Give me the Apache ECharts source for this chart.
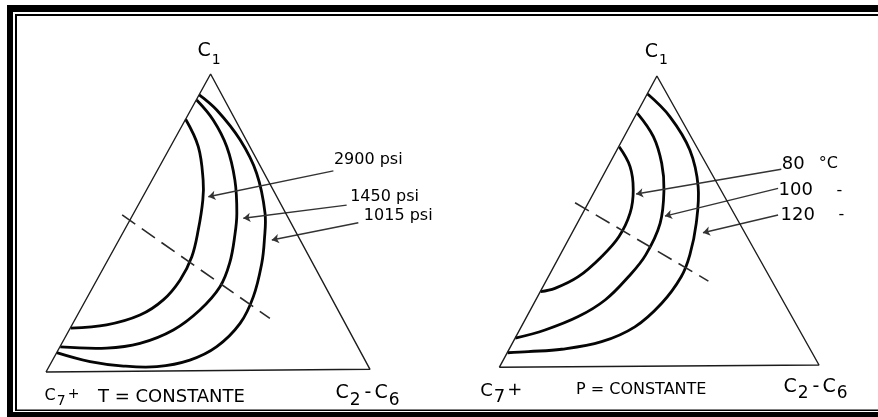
<!DOCTYPE html>
<html>
<head>
<meta charset="utf-8">
<title>Diagramas ternarios</title>
<script src="https://cdn.jsdelivr.net/npm/echarts@6/dist/echarts.min.js"></script>
<style>
  html, body { margin: 0; padding: 0; background: #fff; }
  #chart { width: 878px; height: 417px; }
</style>
</head>
<body>
<div id="chart"></div>
<script>
// each panel uses local units: x 0..100 along the base (C7+ -> C2-C6), y 0..100 up to C1
var vertexNames = ['C7+', 'C2-C6', 'C1'];

// left panel: T = constante
var leftTriangle = [[0, 0], [100, 0.9], [50.8, 100]];
var leftCurveNames = ['2900 psi', '1450 psi', '1015 psi'];
var curve2900 = [[43.1, 84.8], [47.0, 75.6], [48.5, 64.4], [48.4, 57.7], [47.0, 47.7], [45.0, 38.7],
  [41.4, 30.9], [36.2, 24.2], [29.0, 19.1], [18.7, 15.8], [7.6, 14.7]];
var curve1450 = [[46.5, 91.3], [51.6, 84.6], [55.8, 75.6], [58.3, 64.4], [58.9, 53.3], [58.3, 46.0],
  [56.7, 36.6], [53.7, 28.6], [47.5, 20.8], [39.3, 14.1], [29.0, 9.6], [18.7, 8.0], [4.4, 8.4]];
var curve1015 = [[47.3, 93.0], [52.7, 87.9], [59.9, 77.9], [65.0, 66.7], [67.6, 53.3], [67.4, 44.3],
  [66.6, 36.5], [64.0, 25.3], [59.9, 16.3], [52.7, 8.5], [44.4, 4.0], [34.2, 1.8], [23.9, 2.0],
  [13.6, 3.5], [3.3, 6.5]];
var leftArrowTails = [[88.7, 67.5], [92.8, 56.0], [96.4, 50.1]];
var leftArrowHeads = [[50.1, 58.8], [60.9, 51.6], [69.7, 44.3]];
var leftDash = [[23.5, 52.7], [69.1, 18.0]];
var leftTitle = 'T = CONSTANTE';

// right panel: P = constante
var rightTriangle = [[0, 0], [100, 0.8], [49.3, 100]];
var rightCurveNames = ['80', '100', '120'];
var rightUnits = ['°C', '-', '-'];
var curve80 = [[37.5, 75.7], [40.9, 68.9], [41.9, 60.9], [40.9, 52.9], [37.4, 44.8], [32.0, 38.0],
  [24.7, 31.1], [17.4, 27.1], [12.9, 26.0]];
var curve100 = [[43.2, 87.2], [48.2, 79.2], [50.8, 70.0], [51.5, 60.9], [50.3, 49.4], [45.8, 38.6],
  [40.4, 31.1], [33.1, 23.1], [24.7, 17.4], [14.3, 12.8], [5.0, 10.0]];
var curve120 = [[46.4, 93.8], [53.4, 86.0], [59.6, 74.6], [62.2, 62.0], [61.6, 49.4], [59.6, 38.6],
  [56.9, 31.1], [50.8, 22.0], [42.4, 13.9], [32.0, 8.8], [19.5, 6.2], [9.1, 5.4], [2.6, 5.0]];
var rightArrowTails = [[88.2, 68.0], [87.2, 61.4], [87.2, 52.3]];
var rightArrowHeads = [[42.8, 59.5], [51.8, 51.9], [63.7, 46.2]];
var rightDash = [[23.7, 56.5], [65.4, 29.6]];
var rightTitle = 'P = CONSTANTE';

var FONT = 'DejaVu Sans';
var INK = '#000';

var chart = echarts.init(document.getElementById('chart'));

function vertexRich(big, small, drop) {
  return {
    c: { fontFamily: FONT, fontSize: big, color: INK },
    p: { fontFamily: FONT, fontSize: small, color: INK, padding: [0, 0, 2, 1] },
    d: { fontFamily: FONT, fontSize: big, color: INK, padding: [0, 3, 0, 3] },
    s: { fontFamily: FONT, fontSize: small, color: INK, padding: [drop, 1, 0, 1] }
  };
}
function vertexText(name) {
  if (name === 'C1') return '{c|C}{s|1}';
  if (name === 'C7+') return '{c|C}{s|7}{p|+}';
  return '{c|C}{s|2}{d|-}{c|C}{s|6}';
}

// smooth curve through the read points, positioned by the grid's axes
function curveSeries(idx, pts) {
  return {
    type: 'custom', coordinateSystem: 'cartesian2d', xAxisIndex: idx, yAxisIndex: idx,
    silent: true, animation: false, clip: false,
    data: [pts[0]],
    renderItem: function (params, api) {
      return {
        type: 'polyline',
        shape: { points: pts.map(function (p) { return api.coord(p); }), smooth: 0.38 },
        style: { stroke: '#050505', lineWidth: 2.8, fill: null }
      };
    }
  };
}

var hiddenDot = { color: 'rgba(0,0,0,0)', opacity: 1 };

function panelSeries(idx, tri, curves, dash, tails, heads, labelItems, vertexStyle) {
  var base = { xAxisIndex: idx, yAxisIndex: idx, silent: true, animation: false, clip: false };
  var out = [];
  out.push(Object.assign({
    type: 'line', data: tri.concat([tri[0]]), symbol: 'none',
    lineStyle: { color: '#1c1c1c', width: 1.4 }
  }, base));
  curves.forEach(function (c) { out.push(curveSeries(idx, c)); });
  out.push(Object.assign({
    type: 'line', data: dash, symbol: 'none',
    lineStyle: { color: '#2a2a2a', width: 1.6, type: [16, 8] }
  }, base));
  out.push(Object.assign({
    type: 'lines', coordinateSystem: 'cartesian2d',
    symbol: ['none', 'arrow'], symbolSize: 7,
    lineStyle: { color: '#333', width: 1.4, opacity: 1 },
    data: tails.map(function (t, i) { return { coords: [t, heads[i]] }; })
  }, base));
  out.push(Object.assign({
    type: 'scatter', symbolSize: 1, itemStyle: hiddenDot,
    data: labelItems
  }, base));
  out.push(Object.assign({
    type: 'scatter', symbolSize: 1, itemStyle: hiddenDot,
    data: tri.map(function (v, i) {
      var p = vertexStyle[i];
      return {
        value: v, name: vertexNames[i],
        label: {
          show: true, position: p.pos, distance: p.dist, offset: p.off,
          formatter: vertexText(vertexNames[i]), rich: vertexRich(p.big, p.small, p.drop)
        }
      };
    })
  }, base));
  return out;
}

var leftOffsets = [[0, -11], [3, -8], [5, -7]];
var leftLabels = leftArrowTails.map(function (t, i) {
  return {
    value: t, name: leftCurveNames[i],
    label: {
      show: true, position: 'right', distance: 0, offset: leftOffsets[i],
      formatter: leftCurveNames[i], fontFamily: FONT, fontSize: 16, color: INK
    }
  };
});

var rightOffsets = [[0, -5], [0, 2], [2, 0]];
var rightValueWidths = [37, 58, 58];
var rightLabels = rightArrowTails.map(function (t, i) {
  return {
    value: t, name: rightCurveNames[i],
    label: {
      show: true, position: 'right', distance: 0, offset: rightOffsets[i],
      formatter: '{v|' + rightCurveNames[i] + '}{u|' + rightUnits[i] + '}',
      rich: {
        v: { fontFamily: FONT, fontSize: 18, color: INK, width: rightValueWidths[i] },
        u: { fontFamily: FONT, fontSize: 16, color: INK }
      }
    }
  };
});

var leftVertexStyle = [
  { pos: 'bottom', dist: 10, off: [16, 0], big: 16, small: 14, drop: 12 },
  { pos: 'bottom', dist: 8, off: [-2, 0], big: 19, small: 17, drop: 14 },
  { pos: 'top', dist: 0, off: [-1, -6], big: 19, small: 14, drop: 18 }
];
var rightVertexStyle = [
  { pos: 'bottom', dist: 9, off: [2, 0], big: 18, small: 18, drop: 12 },
  { pos: 'bottom', dist: 6, off: [-3, 0], big: 19, small: 17, drop: 14 },
  { pos: 'top', dist: 0, off: [0, -8], big: 19, small: 14, drop: 16 }
];

function hiddenAxis(i) {
  return { type: 'value', gridIndex: i, min: 0, max: 100, show: false };
}

var option = {
  animation: false,
  backgroundColor: '#fff',
  graphic: [
    { type: 'rect', shape: { x: 7, y: 5, width: 900, height: 420 }, style: { fill: '#000' } },
    { type: 'rect', shape: { x: 13, y: 12, width: 900, height: 400 }, style: { fill: '#fff' } },
    { type: 'rect', shape: { x: 15, y: 14, width: 900, height: 397 }, style: { fill: '#000' } },
    { type: 'rect', shape: { x: 17, y: 16, width: 900, height: 393.5 }, style: { fill: '#fff' } }
  ],
  title: [
    { text: leftTitle, left: 98, top: 388, padding: 0,
      textStyle: { fontFamily: FONT, fontSize: 18, fontWeight: 'normal', color: INK } },
    { text: rightTitle, left: 576, top: 382, padding: 0,
      textStyle: { fontFamily: FONT, fontSize: 16, fontWeight: 'normal', color: INK } }
  ],
  grid: [
    { left: 46, top: 74, width: 324, height: 298 },
    { left: 499.3, top: 76, width: 319.7, height: 291.3 }
  ],
  xAxis: [hiddenAxis(0), hiddenAxis(1)],
  yAxis: [hiddenAxis(0), hiddenAxis(1)],
  series: [].concat(
    panelSeries(0, leftTriangle, [curve2900, curve1450, curve1015], leftDash,
      leftArrowTails, leftArrowHeads, leftLabels, leftVertexStyle),
    panelSeries(1, rightTriangle, [curve80, curve100, curve120], rightDash,
      rightArrowTails, rightArrowHeads, rightLabels, rightVertexStyle)
  )
};

chart.setOption(option);
</script>
</body>
</html>
